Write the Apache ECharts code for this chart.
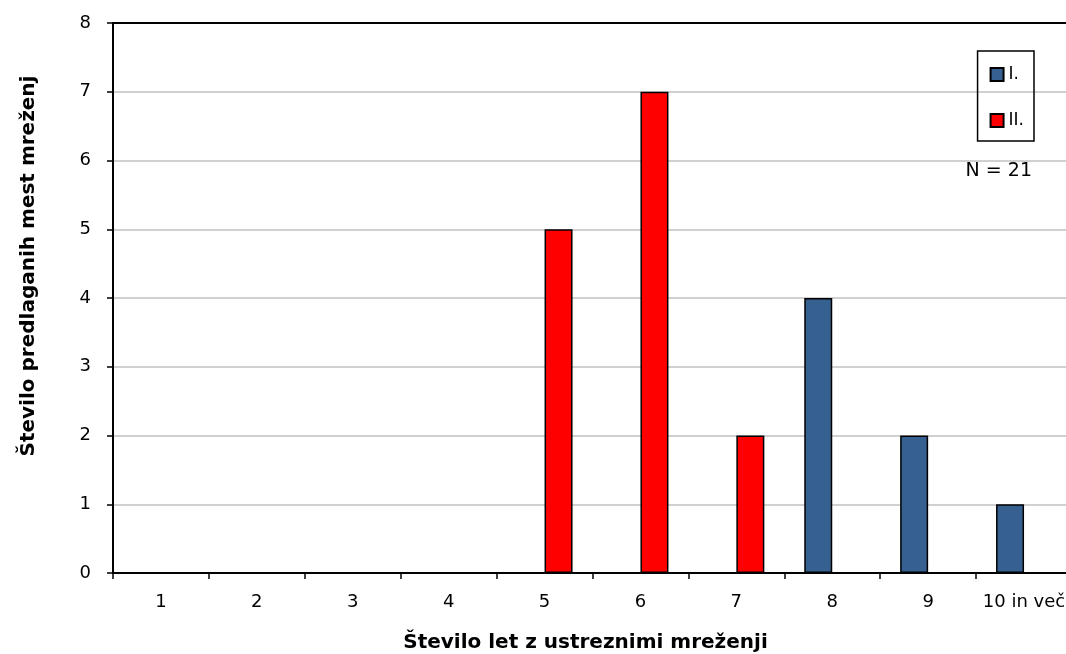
<!DOCTYPE html>
<html>
<head>
<meta charset="utf-8">
<script src="https://cdn.jsdelivr.net/npm/echarts@6/dist/echarts.min.js"></script>
<style>
  html, body { margin: 0; padding: 0; background: #fff; }
  #chart { width: 1066px; height: 654px; }
</style>
</head>
<body>
<div id="chart"></div>
<script>
const categories = ["1", "2", "3", "4", "5", "6", "7", "8", "9", "10 in več"];
const seriesNames = ["I.", "II."];
const valuesI = [0, 0, 0, 0, 0, 0, 0, 4, 2, 1];
const valuesII = [0, 0, 0, 0, 5, 7, 2, 0, 0, 0];
const seriesColors = ["#36608f", "#ff0000"];
const noteText = "N = 21";

function render_chart() {
    const chart = echarts.init(document.getElementById("chart"));
    const font = "DejaVu Sans";
    const barStyle = (color) => ({ color: color, borderColor: "#000", borderWidth: 1.5 });

    chart.setOption({
        animation: false,
        textStyle: { fontFamily: font },
        grid: { left: 113, right: -6, top: 23, bottom: 81, containLabel: false, outerBoundsMode: "none" },
        legend: {
            orient: "vertical",
            right: 32,
            top: 51,
            padding: [15, 10, 12, 12],
            itemGap: 29,
            itemWidth: 13,
            itemHeight: 13,
            borderColor: "#000",
            borderWidth: 1.5,
            icon: "rect",
            textStyle: { fontSize: 17, color: "#000", fontFamily: font },
            data: seriesNames
        },
        graphic: [{
            type: "text",
            right: 34,
            top: 162,
            style: { text: noteText, fontSize: 19, fontFamily: font, fill: "#000" }
        }],
        xAxis: [{
            type: "category",
            data: categories,
            name: "Število let z ustreznimi mreženji",
            nameLocation: "middle",
            nameGap: 60,
            nameTextStyle: { fontSize: 20, fontWeight: "bold", color: "#000", padding: [0, 0, 0, -14] },
            axisLine: { lineStyle: { color: "#000", width: 2 } },
            axisTick: { show: true, interval: 0, length: 6, lineStyle: { color: "#000", width: 1.5 } },
            axisLabel: { interval: 0, fontSize: 18, color: "#000", margin: 20 }
        }, {
            type: "category",
            position: "top",
            data: categories,
            axisLine: { lineStyle: { color: "#000", width: 2 } },
            axisTick: { show: false },
            axisLabel: { show: false }
        }],
        yAxis: {
            type: "value",
            min: 0,
            max: 8,
            interval: 1,
            name: "Število predlaganih mest mreženj",
            nameLocation: "middle",
            nameGap: 74,
            nameTextStyle: { fontSize: 20, fontWeight: "bold", color: "#000", padding: [0, 0, 0, 64] },
            axisLine: { show: true, lineStyle: { color: "#000", width: 2 } },
            axisTick: { show: true, length: 6, lineStyle: { color: "#000", width: 1.5 } },
            axisLabel: { fontSize: 18, color: "#000", margin: 22 },
            splitLine: { lineStyle: { color: "#c0c0c0", width: 1.5 } }
        },
        series: [{
            name: seriesNames[0],
            type: "bar",
            data: valuesI,
            barWidth: 28,
            barGap: "0%",
            itemStyle: barStyle(seriesColors[0])
        }, {
            name: seriesNames[1],
            type: "bar",
            data: valuesII,
            barWidth: 28,
            barGap: "0%",
            itemStyle: barStyle(seriesColors[1])
        }]
    });
}

window.addEventListener("load", render_chart);
</script>
</body>
</html>
